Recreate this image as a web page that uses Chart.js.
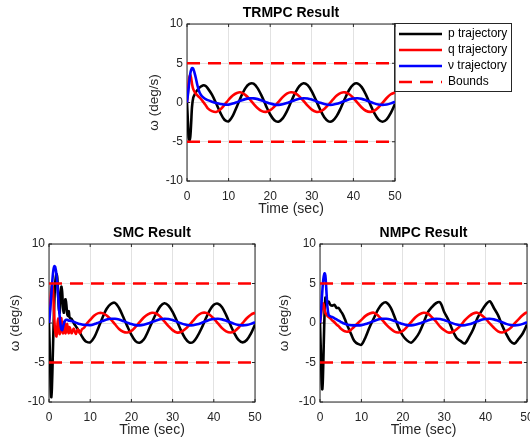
<!DOCTYPE html>
<html><head><meta charset="utf-8">
<script src="https://cdn.jsdelivr.net/npm/chart.js@4.4.0/dist/chart.umd.min.js"></script>
<style>
html,body{margin:0;padding:0;background:#fff;}
body{width:530px;height:443px;position:relative;overflow:hidden;}
canvas{position:absolute;display:block;}
</style></head><body>
<canvas id="cTop" width="410" height="222" style="left:120px;top:0;width:410px;height:222px"></canvas>
<canvas id="cSmc" width="265" height="221" style="left:0;top:222px;width:265px;height:221px"></canvas>
<canvas id="cNmpc" width="265" height="221" style="left:265px;top:222px;width:265px;height:221px"></canvas>
<script>
// ---------- data ----------
const boundT  = [0, 50];
const boundUp = [5, 5];
const boundLo = [-5, -5];
const xTicks = [0, 10, 20, 30, 40, 50];
const yTicks = [-10, -5, 0, 5, 10];

// TRMPC
const tTop = [0,0.2,0.4,0.6,0.8,1,1.2,1.5,2,2.5,3,3.5,4,4.5,5,
  6,7,8,9,10,11,12,13,14,15,16,17,18,19,20,21,22,23,24,25,26,27,28,29,30,
  31,32,33,34,35,36,37,38,39,40,41,42,43,44,45,46,47,48,49,50];
const pTop = [0,-2.2,-4.4,-4.8,-4.3,-2.6,-0.6,0.6,1.2,1.6,1.9,2.1,2.2,2.1,1.8,
  1.0,-0.1,-1.3,-2.2,-2.4,-1.7,-0.5,0.75,1.8,2.37,2.4,1.8,0.78,-0.43,-1.53,-2.26,-2.44,-2.02,-1.12,0.06,
  1.22,2.09,2.45,2.21,1.43,0.30,-0.89,-1.88,-2.40,-2.34,-1.71,-0.66,0.55,1.62,2.30,2.42,1.96,1.01,-0.18,
  -1.33,-2.15,-2.45,-2.15,-1.33,-0.18];
const qTop = [0,1.2,2.5,3.3,3.5,3.1,2.4,1.7,1.2,0.9,0.65,0.35,0.0,-0.35,-0.75,
  -1.1,-1.2,-0.9,-0.3,0.35,0.9,1.22,1.28,0.97,0.45,-0.17,-0.73,-1.10,-1.19,-0.98,-0.52,0.08,0.68,1.12,1.30,
  1.18,0.78,0.21,-0.41,-0.91,-1.18,-1.15,-0.82,-0.29,0.33,0.88,1.23,1.29,1.05,0.57,-0.04,-0.63,-1.05,-1.20,
  -1.05,-0.63,-0.04,0.57,1.05,1.29];
const vTop = [0,0.9,1.9,2.9,3.7,4.15,4.38,4.3,3.4,2.2,1.3,0.85,0.6,0.42,0.3,
  0.1,-0.07,-0.2,-0.27,-0.27,-0.14,0.05,0.25,0.43,0.53,0.53,0.43,0.25,0.05,-0.14,-0.27,-0.30,-0.23,-0.07,0.13,
  0.33,0.48,0.54,0.50,0.37,0.17,-0.03,-0.20,-0.29,-0.28,-0.17,0.01,0.21,0.40,0.51,0.54,0.46,0.29,0.09,
  -0.11,-0.25,-0.30,-0.25,-0.11,0.09];

// SMC
const tSmc = [0,0.2,0.4,0.55,0.7,0.9,1.1,1.3,1.5,1.8,2,2.2,2.4,2.6,2.8,3,3.2,3.4,3.6,3.8,4,4.2,4.4,4.6,4.8,5,
  5.5,6,6.5,7,7.5,8,8.5,9,
  10,11,12,13,14,15,16,17,18,19,20,21,22,23,24,25,26,27,28,29,30,
  31,32,33,34,35,36,37,38,39,40,41,42,43,44,45,46,47,48,49,50];
const pSmc = [0,-3.5,-8.0,-9.4,-8.3,-4.5,-0.5,2.8,5.0,6.2,5.8,3.8,1.8,1.3,3.6,4.6,3.9,2.0,1.3,2.6,3.0,2.4,1.2,0.9,1.5,0.7,
  0.5,0.0,-0.4,-0.8,-1.2,-1.7,-2.1,-2.35,
  -2.45,-1.8,-0.6,0.7,1.8,2.4,2.55,1.9,0.8,-0.4,-1.5,-2.3,-2.5,-2.1,-1.1,0.1,1.2,2.1,2.5,2.2,1.4,
  0.3,-0.9,-1.9,-2.45,-2.4,-1.7,-0.7,0.5,1.6,2.3,2.45,2.0,1.0,-0.2,-1.3,-2.15,-2.45,-2.15,-1.35,-0.2];
const qSmc = [0,1.5,3.2,4.2,4.8,4.6,2.8,0.5,-1.0,-1.7,-0.6,0.6,-0.6,-1.4,0.3,0.6,-1.0,-1.3,0.1,-0.1,-1.3,-0.9,-0.1,-0.9,-1.3,-0.5,
  -1.3,-0.7,-1.4,-0.8,-1.3,-0.8,-0.6,-0.2,
  0.4,0.95,1.25,1.25,0.95,0.45,-0.15,-0.75,-1.1,-1.2,-1.0,-0.5,0.1,0.7,1.1,1.3,1.2,0.8,0.2,-0.4,-0.9,
  -1.2,-1.15,-0.8,-0.3,0.3,0.9,1.25,1.3,1.05,0.55,-0.05,-0.65,-1.05,-1.2,-1.05,-0.6,0.0,0.6,1.05,1.3];
const vSmc = [0,1.0,2.4,3.5,4.6,5.9,6.8,7.2,7.1,6.2,5.0,3.5,2.0,0.8,-0.2,-0.8,-0.9,-0.5,-0.1,0.2,0.35,0.4,0.4,0.35,0.3,0.3,
  0.25,0.15,0.05,-0.05,-0.12,-0.18,-0.22,-0.25,
  -0.27,-0.14,0.05,0.25,0.43,0.53,0.53,0.43,0.25,0.05,-0.14,-0.27,-0.30,-0.23,-0.07,0.13,0.33,0.48,0.54,0.50,0.37,
  0.17,-0.03,-0.20,-0.29,-0.28,-0.17,0.01,0.21,0.40,0.51,0.54,0.46,0.29,0.09,-0.11,-0.25,-0.30,-0.25,-0.11,0.09];

// NMPC
const tNmpc = [0,0.2,0.4,0.56,0.7,0.9,1.1,1.3,1.5,1.8,2.1,2.5,3,3.5,4,4.5,5,5.5,6,6.5,7,7.5,8,8.5,9,
  10,11,12,13,14,15,16,17,18,19,20,21,22,23,24,25,26,27,28,29,30,
  31,32,33,34,35,36,37,38,39,40,41,42,43,44,45,46,47,48,49,50];
const pNmpc = [0,-3.5,-7.4,-8.4,-7.0,-2.8,1.2,3.2,3.0,2.5,2.7,2.3,2.2,2.3,1.9,1.9,1.5,1.1,0.5,-0.2,-0.8,-1.4,-2.0,-2.4,-2.6,
  -2.75,-1.8,-0.5,0.6,1.7,2.4,2.6,2.0,0.8,-0.6,-1.6,-2.2,-2.5,-2.0,-1.2,0.0,1.3,2.0,2.5,2.6,1.4,
  0.4,-0.9,-1.9,-2.3,-2.6,-1.8,-0.8,0.6,1.5,2.3,2.75,1.9,1.0,-0.3,-1.4,-2.3,-2.6,-2.0,-1.3,-0.2];
const qNmpc = [0,0.8,1.7,2.2,2.5,2.3,1.7,1.3,1.1,0.9,0.75,0.6,0.3,0.1,-0.2,-0.4,-0.7,-0.9,-1.05,-1.1,-1.05,-0.85,-0.6,-0.35,-0.1,
  0.4,0.9,1.2,1.3,0.95,0.4,-0.2,-0.7,-1.1,-1.2,-1.0,-0.5,0.1,0.7,1.1,1.3,1.2,0.75,0.2,-0.45,-0.9,
  -1.2,-1.15,-0.8,-0.3,0.35,0.85,1.2,1.3,1.0,0.55,-0.05,-0.6,-1.05,-1.2,-1.0,-0.65,-0.05,0.5,1.0,1.4];
const vNmpc = [0,1.2,2.8,4.0,5.0,5.9,6.3,6.0,4.5,2.0,1.0,0.85,0.75,0.6,0.45,0.3,0.15,0.0,-0.1,-0.2,-0.25,-0.28,-0.3,-0.3,-0.3,
  -0.27,-0.14,0.05,0.25,0.43,0.53,0.53,0.43,0.25,0.05,-0.14,-0.27,-0.30,-0.23,-0.07,0.13,0.33,0.48,0.54,0.50,0.37,
  0.17,-0.03,-0.20,-0.29,-0.28,-0.17,0.01,0.21,0.40,0.51,0.54,0.46,0.29,0.09,-0.11,-0.25,-0.30,-0.25,-0.11,0.09];

// ---------- helpers ----------
[[tTop,pTop,qTop,vTop,'top'],[tSmc,pSmc,qSmc,vSmc,'smc'],[tNmpc,pNmpc,qNmpc,vNmpc,'nmpc']].forEach(a=>{
  if (a[0].length!==a[1].length||a[0].length!==a[2].length||a[0].length!==a[3].length)
    throw new Error('length mismatch '+a[4]+' '+a[0].length+' '+a[1].length+' '+a[2].length+' '+a[3].length);
});

Chart.defaults.font.family = '"Liberation Sans", Arial, Helvetica, sans-serif';
const AX = '#262626';

function series(t, v){ return t.map((x, i) => ({x: x, y: v[i]})); }

function datasets(t, p, q, v){
  const line = {pointRadius:0, pointHoverRadius:0, fill:false, tension:0.3, borderWidth:2.6};
  const bound = {pointRadius:0, fill:false, tension:0, borderWidth:2.6, borderDash:[13,8], borderColor:'#ff0000', backgroundColor:'#ff0000'};
  return [
    Object.assign({label:'Bounds', data:series(boundT, boundUp)}, bound),
    Object.assign({label:'Bounds', data:series(boundT, boundLo)}, bound),
    Object.assign({label:'\u03bd trajectory', data:series(t, v), borderColor:'#0000ff', backgroundColor:'#0000ff'}, line),
    Object.assign({label:'q trajectory', data:series(t, q), borderColor:'#ff0000', backgroundColor:'#ff0000'}, line),
    Object.assign({label:'p trajectory', data:series(t, p), borderColor:'#000000', backgroundColor:'#000000'}, line)
  ];
}

const frame = {
  id:'frame',
  beforeDatasetsDraw(chart){
    const {ctx, chartArea:a, scales} = chart;
    ctx.save();
    ctx.strokeStyle = AX; ctx.lineWidth = 1;
    ctx.strokeRect(a.left, a.top, a.right - a.left, a.bottom - a.top);
    ctx.beginPath();
    scales.x.ticks.forEach(tk => {
      const px = scales.x.getPixelForValue(tk.value);
      ctx.moveTo(px, a.bottom); ctx.lineTo(px, a.bottom - 3);
      ctx.moveTo(px, a.top); ctx.lineTo(px, a.top + 3);
    });
    scales.y.ticks.forEach(tk => {
      const py = scales.y.getPixelForValue(tk.value);
      ctx.moveTo(a.left, py); ctx.lineTo(a.left + 3, py);
      ctx.moveTo(a.right, py); ctx.lineTo(a.right - 3, py);
    });
    ctx.stroke();
    ctx.restore();
  }
};

const legendFrame = {
  id:'legendFrame',
  afterDraw(chart){
    const lg = chart.legend;
    if (!lg || !lg.options.display || !lg.legendHitBoxes || !lg.legendHitBoxes.length) return;
    let l=Infinity,t=Infinity,r=-Infinity,b=-Infinity;
    lg.legendHitBoxes.forEach(h => { l=Math.min(l,h.left); t=Math.min(t,h.top); r=Math.max(r,h.left+h.width); b=Math.max(b,h.top+h.height); });
    const ctx = chart.ctx;
    ctx.save();
    ctx.strokeStyle = AX; ctx.lineWidth = 1;
    ctx.strokeRect(Math.round(l-5)+0.5, Math.round(t-5)+0.5, Math.round(r-l+9), Math.round(b-t+8));
    ctx.restore();
  }
};

function legendLabels(chart){
  const items = Chart.defaults.plugins.legend.labels.generateLabels(chart);
  items.forEach(it => {
    const ds = chart.data.datasets[it.datasetIndex];
    it.lineDash = ds.borderDash || [];
    it.lineWidth = ds.borderWidth;
    it.strokeStyle = ds.borderColor;
    it.fillStyle = ds.borderColor;
  });
  return items;
}

function makeChart(id, cfg){
  const opts = {
    responsive:false, animation:false, devicePixelRatio:1,
    layout:{padding:{left:cfg.padLeft, right:cfg.padRight, top:0, bottom:0}},
    plugins:{
      tooltip:{enabled:false},
      title:{display:true, text:cfg.title, color:'#000', fullSize:false,
        font:{size:14, weight:'bold'}, padding:{top:cfg.titleTop, bottom:cfg.titleBottom}},
      legend: cfg.legend ? {
        display:true, position:'right', align:'start', fullSize:false, reverse:true, maxWidth:160,
        labels:{usePointStyle:true, pointStyle:'line', pointStyleWidth:43, boxWidth:43, padding:4,
          color:'#000', font:{size:12}, generateLabels: legendLabels,
          filter:(item) => item.datasetIndex !== 1}
      } : {display:false}
    },
    scales:{
      x:{type:'linear', min:0, max:50,
        afterBuildTicks: s => { s.ticks = xTicks.map(v => ({value:v})); },
        ticks:{color:AX, font:{size:12}, padding:8, maxRotation:0, autoSkip:false},
        grid:{color:'#e2e2e2', lineWidth:1, drawTicks:false},
        border:{display:false},
        title:{display:true, text:'Time (sec)', color:AX, font:{size:14}, padding:{top:4, bottom:4}},
        afterFit: s => { s.height = cfg.xH; s.paddingLeft = 0; s.paddingRight = 0; }
      },
      y:{type:'linear', min:-10, max:10,
        afterBuildTicks: s => { s.ticks = yTicks.map(v => ({value:v})); },
        ticks:{color:AX, font:{size:12}, padding:4, autoSkip:false},
        grid:{color:'#e2e2e2', lineWidth:1, drawTicks:false},
        border:{display:false},
        title:{display:true, text:'\u03c9 (deg/s)', color:AX, font:{size:13.5}, padding:{top:4, bottom:4}},
        afterFit: s => { s.width = cfg.yW; s.paddingTop = 0; s.paddingBottom = 0; }
      }
    }
  };
  const ch = new Chart(document.getElementById(id), {
    type:'line',
    data:{datasets: datasets(cfg.t, cfg.p, cfg.q, cfg.v)},
    options: opts,
    plugins:[frame, legendFrame]
  });
  // nudge the plot box onto its place in the figure
  const dr = ch.chartArea.right - cfg.right;
  const dt = cfg.top - ch.chartArea.top;
  if (Math.abs(dr) > 0.3 || Math.abs(dt) > 0.3) {
    ch.options.layout.padding.right += dr;
    ch.options.layout.padding.top += dt;
    ch.update('none');
  }
  return ch;
}

const chartTop = makeChart('cTop', {t:tTop, p:pTop, q:qTop, v:vTop, title:'TRMPC Result', legend:true,
  padLeft:22.4, padRight:20, yW:44.6, xH:41, titleTop:4.6, titleBottom:2.6, right:275, top:24});
const chartSmc = makeChart('cSmc', {t:tSmc, p:pSmc, q:qSmc, v:vSmc, title:'SMC Result', legend:false,
  padLeft:2.9, padRight:10, yW:46.1, xH:41, titleTop:2.6, titleBottom:2.6, right:255, top:22});
const chartNmpc = makeChart('cNmpc', {t:tNmpc, p:pNmpc, q:qNmpc, v:vNmpc, title:'NMPC Result', legend:false,
  padLeft:6.9, padRight:3, yW:48.1, xH:41, titleTop:2.6, titleBottom:2.6, right:262, top:22});
</script>
</body></html>
